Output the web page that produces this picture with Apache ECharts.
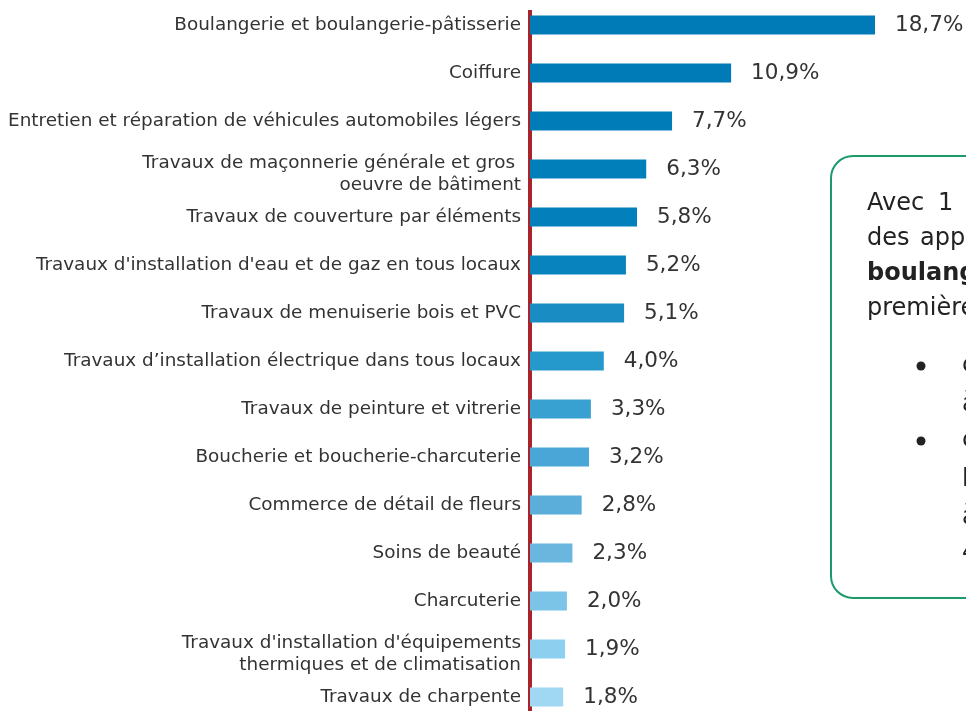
<!DOCTYPE html>
<html>
<head>
<meta charset="utf-8">
<script src="https://cdn.jsdelivr.net/npm/echarts@6/dist/echarts.min.js"></script>
<style>
    html, body { margin: 0; padding: 0; background: #fff; }
    #histogram { width: 966px; height: 711px; }
</style>
</head>
<body>
<div id="histogram"></div>
<script>
var categories = [
    "Boulangerie et boulangerie-pâtisserie",
    "Coiffure",
    "Entretien et réparation de véhicules automobiles légers",
    "Travaux de maçonnerie générale et gros \noeuvre de bâtiment",
    "Travaux de couverture par éléments",
    "Travaux d'installation d'eau et de gaz en tous locaux",
    "Travaux de menuiserie bois et PVC",
    "Travaux d’installation électrique dans tous locaux",
    "Travaux de peinture et vitrerie",
    "Boucherie et boucherie-charcuterie",
    "Commerce de détail de fleurs",
    "Soins de beauté",
    "Charcuterie",
    "Travaux d'installation d'équipements\nthermiques et de climatisation",
    "Travaux de charpente"
];
var parts = [18.7, 10.9, 7.7, 6.3, 5.8, 5.2, 5.1, 4.0, 3.3, 3.2, 2.8, 2.3, 2.0, 1.9, 1.8];
var barColors = ["#007bb8", "#007bb8", "#007cb9", "#017fba", "#037fbb", "#0983bd", "#1a8cc4",
    "#2699cc", "#39a0d2", "#4aa6d6", "#5aaed9", "#6bb6df", "#7bc3e7", "#8ccfef", "#a0d8f3"];

// encadré de texte à droite (coupé par le bord de l'image)
var boxWords = [
    [{ t: "Avec", x: 867 }, { t: "1", x: 938 }],
    [{ t: "des", x: 867 }, { t: "apprentis", x: 920 }],
    [{ t: "boulangerie", x: 867, bold: true }],
    [{ t: "première", x: 867 }]
];
var bulletLines = ["c", "à", "c", "l", "à", "4"];

var FONT = "'DejaVu Sans', Verdana, sans-serif";

var histogram = echarts.init(document.getElementById('histogram'));

var graphics = [{
    type: 'rect',
    shape: { x: 831, y: 156, width: 300, height: 442, r: 22 },
    style: { fill: '#fff', stroke: '#1c9a6a', lineWidth: 2 },
    z: 10
}, {
    // l'axe rouge commence un peu sous le haut
    type: 'rect', z: 10,
    shape: { x: 526, y: 0, width: 7, height: 10 },
    style: { fill: '#fff' }
}];
boxWords.forEach(function (line, i) {
    line.forEach(function (w) {
        graphics.push({
            type: 'text', x: w.x, y: 204 + i * 35, z: 11,
            style: {
                text: w.t, fill: '#222', verticalAlign: 'middle',
                fontSize: 24, fontFamily: FONT, fontWeight: w.bold ? 'bold' : 'normal'
            }
        });
    });
});
[366, 441].forEach(function (y) {
    graphics.push({
        type: 'circle', z: 11,
        shape: { cx: 921, cy: y, r: 4.5 },
        style: { fill: '#222' }
    });
});
var bulletY = [366, 405, 441, 480, 518, 553];
bulletLines.forEach(function (t, i) {
    graphics.push({
        type: 'text', x: 962, y: bulletY[i], z: 11,
        style: { text: t, fill: '#222', verticalAlign: 'middle', fontSize: 24, fontFamily: FONT }
    });
});

var labelStyle = { color: '#333', fontSize: 18.4, fontFamily: FONT, lineHeight: 22 };

histogram.setOption({
    animation: false,
    grid: { left: 530, top: 1, width: 369, height: 720, outerBoundsMode: 'none' },
    xAxis: {
        type: 'value', min: 0, max: 20, show: false
    },
    yAxis: {
        type: 'category',
        inverse: true,
        data: categories,
        axisTick: { show: false },
        axisLine: { lineStyle: { color: '#a8242a', width: 4 } },
        axisLabel: {
            color: '#333', fontSize: 18.4, fontFamily: FONT,
            margin: 9, lineHeight: 22, align: 'right',
            // les libellés sur deux lignes descendent un peu sous la barre
            formatter: function (v) {
                if (v.indexOf('\n') < 0) return v;
                return '{s| }\n' + v.split('\n').map(function (l) { return '{t|' + l + '}'; }).join('\n');
            },
            rich: {
                s: { fontSize: 8, lineHeight: 10 },
                t: labelStyle
            }
        }
    },
    series: [{
        name: 'Part',
        type: 'bar',
        data: parts,
        barWidth: 19,
        itemStyle: {
            color: function (p) { return barColors[p.dataIndex]; }
        },
        label: {
            show: true, position: 'right', distance: 20,
            color: '#333', fontSize: 21.5, fontFamily: FONT,
            formatter: function (p) { return p.value.toFixed(1).replace('.', ',') + '%'; }
        }
    }],
    graphic: graphics
});
</script>
</body>
</html>
